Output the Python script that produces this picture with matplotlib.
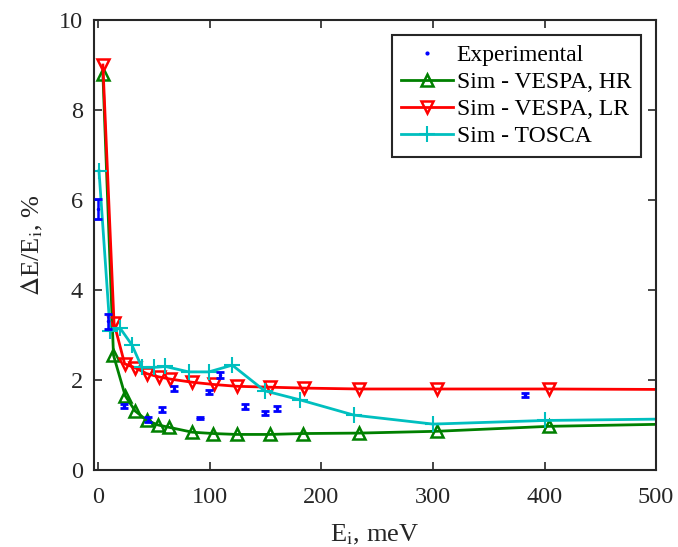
import numpy as np
import matplotlib
matplotlib.use('Agg')
import matplotlib.pyplot as plt
from matplotlib.lines import Line2D

plt.rcParams['font.family'] = ['Liberation Serif', 'DejaVu Serif']
plt.rcParams['mathtext.fontset'] = 'stix'

# measured resolution (blue points with error bars)
exp_e = [0, 9, 23, 44, 57, 67.5, 91, 99, 109, 131, 149.5, 160, 382.5]
exp_res = [5.8, 3.3, 1.42, 1.12, 1.34, 1.81, 1.15, 1.73, 2.11, 1.41, 1.27, 1.37, 1.66]
exp_err = [0.23, 0.16, 0.05, 0.05, 0.05, 0.05, 0.02, 0.05, 0.06, 0.05, 0.05, 0.05, 0.04]

# VESPA high resolution setting
hr_e = [4, 13.5, 24, 33, 43.5, 53.5, 63, 84, 103, 124, 153.5, 183.5, 234, 303.5, 404, 600]
hr_res = [8.8, 2.55, 1.65, 1.31, 1.1, 1.0, 0.95, 0.84, 0.81, 0.79, 0.79, 0.81, 0.82, 0.86, 0.97, 1.06]

# VESPA low resolution setting
lr_e = [4, 14, 23.5, 33, 43.5, 54, 64.5, 84, 103.5, 124, 154, 184, 234, 303.5, 404, 600]
lr_res = [9.0, 3.26, 2.36, 2.27, 2.14, 2.07, 2.02, 1.95, 1.9, 1.86, 1.84, 1.82, 1.8, 1.8, 1.8, 1.78]

# TOSCA
tosca_e = [0.5, 10.5, 19.5, 30, 39, 49.5, 60, 81, 99, 120, 149, 180.5, 229, 300, 400, 600]
tosca_res = [6.65, 3.08, 3.15, 2.78, 2.28, 2.28, 2.3, 2.18, 2.18, 2.33, 1.76, 1.56, 1.22, 1.02, 1.1, 1.16]

fig = plt.figure(figsize=(6.78, 5.47), dpi=100)
ax = fig.add_axes([0.1386, 0.1408, 0.829, 0.8226])

ax.errorbar(exp_e, exp_res, yerr=exp_err, fmt='.', color='blue', ms=3,
            elinewidth=1.8, capsize=3, capthick=2, zorder=3)
l_hr, = ax.plot(hr_e, hr_res, '-^', color=(0, 0.5, 0), lw=2, ms=8, mfc='none', mew=1.8,
                label='Sim - VESPA, HR')
l_lr, = ax.plot(lr_e, lr_res, '-v', color='red', lw=2, ms=8, mfc='none', mew=1.8,
                label='Sim - VESPA, LR')
l_to, = ax.plot(tosca_e, tosca_res, '-+', color=(0, 0.75, 0.75), lw=2, ms=12, mew=1.5,
                label='Sim - TOSCA')
l_exp = Line2D([], [], ls='none', marker='.', ms=4, color='blue', label='Experimental')

ax.set_xlim(-4, 500)
ax.set_ylim(0, 10)
ax.set_xticks([0, 100, 200, 300, 400, 500])
ax.set_yticks([0, 2, 4, 6, 8, 10])

ax.tick_params(direction='in', top=True, right=True, length=6, width=1.2,
               labelsize=17.5, colors='#262626', pad=8)
ax.tick_params(axis='x', pad=12)
for sp in ax.spines.values():
    sp.set_linewidth(1.5)
    sp.set_color('#262626')

ax.set_xlabel(r'E$_{\rm i}$, meV', fontsize=19, color='#262626', labelpad=11)
ax.set_ylabel(r'$\Delta$E/E$_{\rm i}$, %', fontsize=19, color='#262626', labelpad=10)

leg = ax.legend([l_exp, l_hr, l_lr, l_to],
                ['Experimental', 'Sim - VESPA, HR', 'Sim - VESPA, LR', 'Sim - TOSCA'],
                loc='upper right', fontsize=17, fancybox=False,
                edgecolor='#262626', framealpha=1, labelspacing=0.24,
                handlelength=2.2, handletextpad=0.15, borderpad=0.4,
                borderaxespad=0, bbox_to_anchor=(0.973, 0.967))
leg.get_frame().set_linewidth(1.5)

fig.savefig('out.png', dpi=100)
